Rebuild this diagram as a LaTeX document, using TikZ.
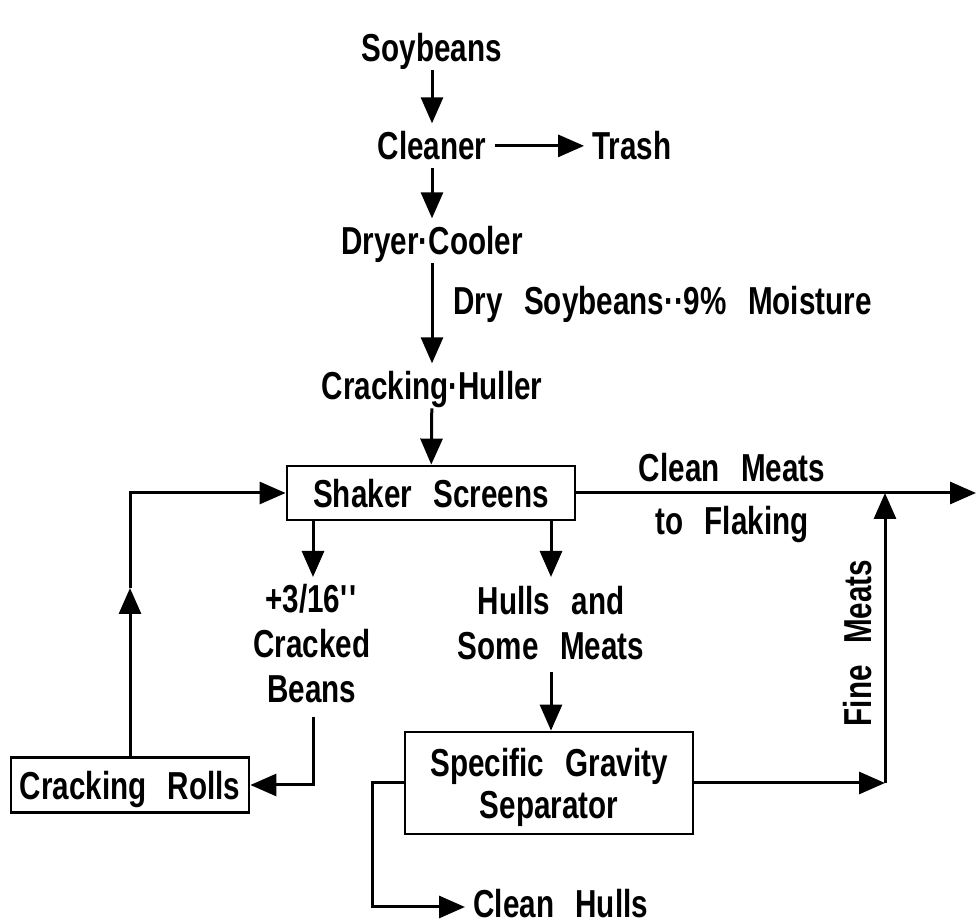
\documentclass[tikz,border=0pt]{standalone}
\usepackage{fontspec}
\setmainfont{Liberation Sans}[FakeStretch=0.76, WordSpace=2.6]
\usetikzlibrary{arrows.meta}

\tikzset{
  lbl/.style={font=\fontsize{19.5}{22.5}\selectfont\bfseries, inner sep=4pt,
    text depth=0pt, align=center},
  unit/.style={lbl, draw, line width=1.4pt, inner sep=0pt},
  flow/.style={line width=1.5pt, -{Triangle[length=13pt,width=11pt]}}
}

\begin{document}
\begin{tikzpicture}[x=0.5pt,y=-0.5pt]
  \useasboundingbox (0,0) rectangle (976,924);

  % main line
  \node[lbl, anchor=base] (soybeans) at (432,62) {Soybeans};
  \node[lbl, anchor=base] (cleaner) at (432,160) {Cleaner};
  \node[lbl, anchor=base] (trash) at (632,160) {Trash};
  \node[lbl, anchor=base] (dryer) at (432,255) {Dryer·Cooler};
  \node[lbl, anchor=base west] (drylabel) at (445,315) {Dry Soybeans··9\% Moisture};
  \node[lbl, anchor=base] (huller) at (432,400) {Cracking·Huller};
  \node[unit, minimum width=144pt, minimum height=27pt] (shaker) at (431,493) {Shaker Screens};
  \node[lbl, anchor=base] (cmeats) at (732,482) {Clean Meats};
  \node[lbl, anchor=base] (flaking) at (732,535) {to Flaking};

  % screen fractions
  \node[lbl, text depth=] (cracked) at (312,644)
    {+3/16\textquotesingle\textquotesingle\\Cracked\\Beans};
  \node[lbl, text depth=] (hulls) at (551,623) {Hulls and\\Some Meats};
  \node[unit, minimum width=119pt, minimum height=27.5pt] (rolls) at (130,785) {Cracking Rolls};
  \node[unit, font=\fontsize{19.5}{21}\selectfont\bfseries,
    minimum width=144pt, minimum height=51pt] (sgs) at (549,783) {Specific Gravity\\Separator};
  \node[lbl, rotate=90] (finemeats) at (857,643) {Fine Meats};
  \node[lbl, anchor=base west] (chulls) at (465,918) {Clean Hulls};

  \coordinate (outlet) at (976,493);
  \coordinate (drop1) at (313,577);
  \coordinate (drop2) at (551,577);
  \coordinate (beansout) at (313,717);
  \coordinate (bend1) at (313,785);
  \coordinate (upmid) at (130,588);
  \coordinate (hullsout) at (551,672);
  \coordinate (fmbase) at (885,783);
  \coordinate (hbend) at (372,907);

  \draw[flow] (soybeans) -- (cleaner);
  \draw[flow] (cleaner) -- (trash);
  \draw[flow] (cleaner) -- (dryer);
  \draw[flow] (dryer) -- (huller);
  \draw[flow] (huller) -- (shaker);
  \draw[flow] (shaker.east) -- (outlet);
  \draw[flow] (shaker.south -| drop1) -- (drop1);
  \draw[flow] (shaker.south -| drop2) -- (drop2);
  \draw[flow] (beansout) -- (bend1) -- (rolls.east);
  \draw[flow] (rolls.north) -- (upmid);
  \draw[flow] (upmid) |- (shaker.west);
  \draw[flow] (hullsout) -- (sgs.north -| hullsout);
  \draw[flow] (sgs.east) -- (fmbase);
  \draw[flow] (fmbase) -- (fmbase |- outlet);
  \draw[flow] (sgs.west) -| (hbend) -- (hbend -| chulls.west);
\end{tikzpicture}
\end{document}
